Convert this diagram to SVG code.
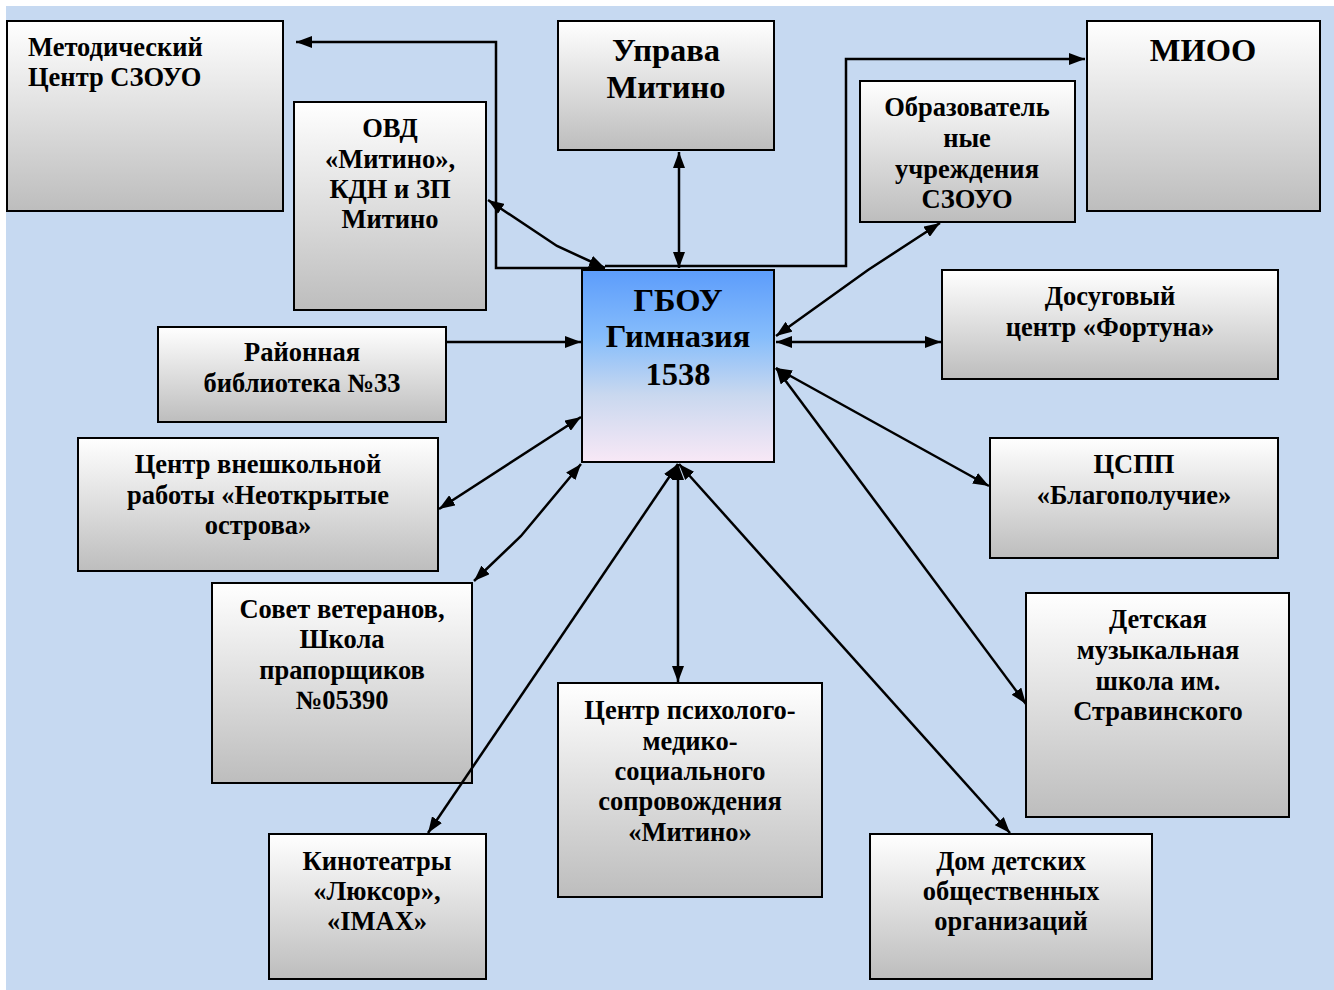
<svg xmlns="http://www.w3.org/2000/svg" width="1334" height="990" viewBox="0 0 1334 990">
<defs>
<linearGradient id="gGray" x1="0" y1="0" x2="0" y2="1">
<stop offset="0" stop-color="#ffffff"/>
<stop offset="1" stop-color="#bdbdbd"/>
</linearGradient>
<linearGradient id="gBlue" x1="0" y1="0" x2="0" y2="1">
<stop offset="0" stop-color="#5c9cfb"/>
<stop offset="0.35" stop-color="#86bdfb"/>
<stop offset="0.65" stop-color="#c9d8ef"/>
<stop offset="1" stop-color="#f8e8f6"/>
</linearGradient>
<marker id="ah" viewBox="0 0 16 12" refX="16" refY="6" markerWidth="16" markerHeight="12" markerUnits="userSpaceOnUse" orient="auto-start-reverse">
<path d="M0,0 L16,6 L0,12 Z" fill="#000"/>
</marker>
<style>
.box{fill:url(#gGray);stroke:#000;stroke-width:2}
.t{font-family:"Liberation Serif","Times New Roman",serif;font-weight:bold;font-size:26.5px;fill:#000;text-anchor:middle}
.big{font-size:32.5px}
.c{fill:none;stroke:#000;stroke-width:2.5}
.a2{marker-start:url(#ah);marker-end:url(#ah)}
.a1{marker-end:url(#ah)}
</style>
</defs>
<rect x="6" y="6" width="1328" height="984" fill="#c6d9f1"/>

<g id="metod">
<rect class="box" x="7" y="21" width="276" height="190"/>
<text class="t" style="text-anchor:start" x="28"><tspan x="28" y="56">Методический</tspan><tspan x="28" y="86">Центр СЗОУО</tspan></text>
</g>
<g id="ovd">
<rect class="box" x="294" y="102" width="192" height="208"/>
<text class="t"><tspan x="390" y="137">ОВД</tspan><tspan x="390" y="168">«Митино»,</tspan><tspan x="390" y="198">КДН и ЗП</tspan><tspan x="390" y="228">Митино</tspan></text>
</g>
<g id="uprava">
<rect class="box" x="558" y="21" width="216" height="129"/>
<text class="t big"><tspan x="666" y="61">Управа</tspan><tspan x="666" y="98">Митино</tspan></text>
</g>
<g id="mioo">
<rect class="box" x="1087" y="21" width="233" height="190"/>
<text class="t big" x="1203" y="61">МИОО</text>
</g>
<g id="obraz">
<rect class="box" x="860" y="81" width="215" height="141"/>
<text class="t"><tspan x="967" y="116">Образователь</tspan><tspan x="967" y="147">ные</tspan><tspan x="967" y="178">учреждения</tspan><tspan x="967" y="208">СЗОУО</tspan></text>
</g>
<g id="gboy">
<rect x="582" y="270" width="192" height="192" fill="url(#gBlue)" stroke="#000" stroke-width="2"/>
<text class="t big"><tspan x="678" y="311">ГБОУ</tspan><tspan x="678" y="347">Гимназия</tspan><tspan x="678" y="385">1538</tspan></text>
</g>
<g id="dosug">
<rect class="box" x="942" y="270" width="336" height="109"/>
<text class="t"><tspan x="1110" y="305">Досуговый</tspan><tspan x="1110" y="336">центр «Фортуна»</tspan></text>
</g>
<g id="biblio">
<rect class="box" x="158" y="327" width="288" height="95"/>
<text class="t"><tspan x="302" y="361">Районная</tspan><tspan x="302" y="392">библиотека №33</tspan></text>
</g>
<g id="vneshk">
<rect class="box" x="78" y="438" width="360" height="133"/>
<text class="t"><tspan x="258" y="473">Центр внешкольной</tspan><tspan x="258" y="504">работы «Неоткрытые</tspan><tspan x="258" y="534">острова»</tspan></text>
</g>
<g id="cspp">
<rect class="box" x="990" y="438" width="288" height="120"/>
<text class="t"><tspan x="1134" y="473">ЦСПП</tspan><tspan x="1134" y="504">«Благополучие»</tspan></text>
</g>
<g id="sovet">
<rect class="box" x="212" y="583" width="260" height="200"/>
<text class="t"><tspan x="342" y="618">Совет ветеранов,</tspan><tspan x="342" y="648">Школа</tspan><tspan x="342" y="679">прапорщиков</tspan><tspan x="342" y="709">№05390</tspan></text>
</g>
<g id="muz">
<rect class="box" x="1026" y="593" width="263" height="224"/>
<text class="t"><tspan x="1158" y="628">Детская</tspan><tspan x="1158" y="659">музыкальная</tspan><tspan x="1158" y="690">школа им.</tspan><tspan x="1158" y="720">Стравинского</tspan></text>
</g>
<g id="psih">
<rect class="box" x="558" y="683" width="264" height="214"/>
<text class="t"><tspan x="690" y="719">Центр психолого-</tspan><tspan x="690" y="750">медико-</tspan><tspan x="690" y="780">социального</tspan><tspan x="690" y="810">сопровождения</tspan><tspan x="690" y="841">«Митино»</tspan></text>
</g>
<g id="kino">
<rect class="box" x="269" y="834" width="217" height="145"/>
<text class="t"><tspan x="377" y="870">Кинотеатры</tspan><tspan x="377" y="900">«Люксор»,</tspan><tspan x="377" y="930">«IMAX»</tspan></text>
</g>
<g id="dom">
<rect class="box" x="870" y="834" width="282" height="145"/>
<text class="t"><tspan x="1011" y="870">Дом детских</tspan><tspan x="1011" y="900">общественных</tspan><tspan x="1011" y="930">организаций</tspan></text>
</g>

<g id="connectors">
<polyline class="c a1" points="605,268 496,268 496,42 296,42"/>
<polyline class="c a1" points="605,266 846,266 846,59 1085,59"/>
<polyline class="c a2" points="488,200 557,246 605,268"/>
<line class="c a2" x1="679" y1="152" x2="679" y2="268"/>
<polyline class="c a2" points="940,223 868,270 776,336"/>
<line class="c a2" x1="776" y1="342" x2="941" y2="342"/>
<line class="c a1" x1="447" y1="342" x2="581" y2="342"/>
<line class="c a2" x1="439" y1="509" x2="581" y2="417"/>
<polyline class="c a2" points="474,581 521,536 581,464"/>
<line class="c a2" x1="428" y1="833" x2="678" y2="464"/>
<line class="c a2" x1="678" y1="464" x2="678" y2="682"/>
<line class="c a2" x1="1010" y1="833" x2="679" y2="464"/>
<line class="c a2" x1="1026" y1="704" x2="776" y2="368"/>
<line class="c a2" x1="989" y1="486" x2="776" y2="368"/>
</g>
</svg>
